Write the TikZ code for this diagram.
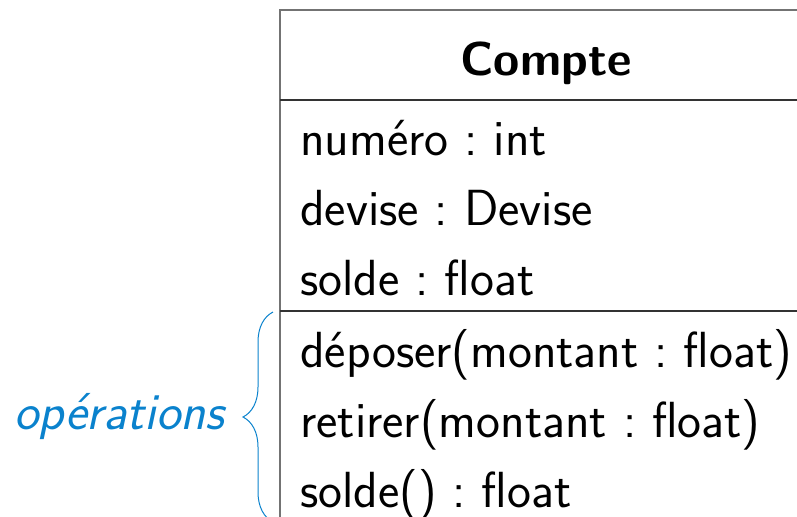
\documentclass[tikz,border=0pt]{standalone}
\usepackage{tikz}
\usetikzlibrary{positioning,decorations.pathreplacing,calc}
\definecolor{opblue}{RGB}{10,130,205}
\newcommand{\umlfont}{\fontsize{25.4}{35}\selectfont\sffamily\frenchspacing}
\newcommand{\titlefont}{\fontsize{23.8}{35}\selectfont\sffamily\bfseries}

\begin{document}
\begin{tikzpicture}[x=0.5pt, y=-0.5pt,
    every node/.style={font=\umlfont, inner sep=0pt},
    member/.style={anchor=base west},
    nextmember/.style={below=35pt of #1.base west, anchor=base west},
    classline/.style={line width=1pt, black!80},
    classedge/.style={line width=1pt, black!55}]
  \useasboundingbox (0,0) rectangle (797,516);
  \clip (0,0) rectangle (797,516);

  % la classe Compte
  \draw[classedge] (280,530) |- (820,10);
  \draw[classline] (280,100) -- (820,100);
  \draw[classline] (280,311) -- (820,311);

  \node[font=\titlefont, anchor=base] (titre) at (546,75) {Compte};

  % attributs
  \node[member] (numero) at (300,155) {numéro : int};
  \node[nextmember=numero] (devise) {devise : Devise};
  \node[nextmember=devise] (solde) {solde : float};

  % operations
  \node[member] (deposer) at (300,367) {déposer(montant : float)};
  \node[nextmember=deposer] (retirer) {retirer(montant : float)};
  \node[nextmember=retirer] (soldeop) {solde() : float};

  % accolade
  \coordinate (bas) at (273,522);
  \coordinate (haut) at (273,312);
  \coordinate (pointe) at (243,417);
  \draw[opblue, line width=0.5pt, decorate, decoration={brace, amplitude=15pt}] (bas) -- (haut);
  \node[font=\fontsize{26}{35}\selectfont\sffamily\itshape, text=opblue, left=9pt of pointe, anchor=base east, yshift=-6pt] (ops) {opérations};
\end{tikzpicture}
\end{document}
